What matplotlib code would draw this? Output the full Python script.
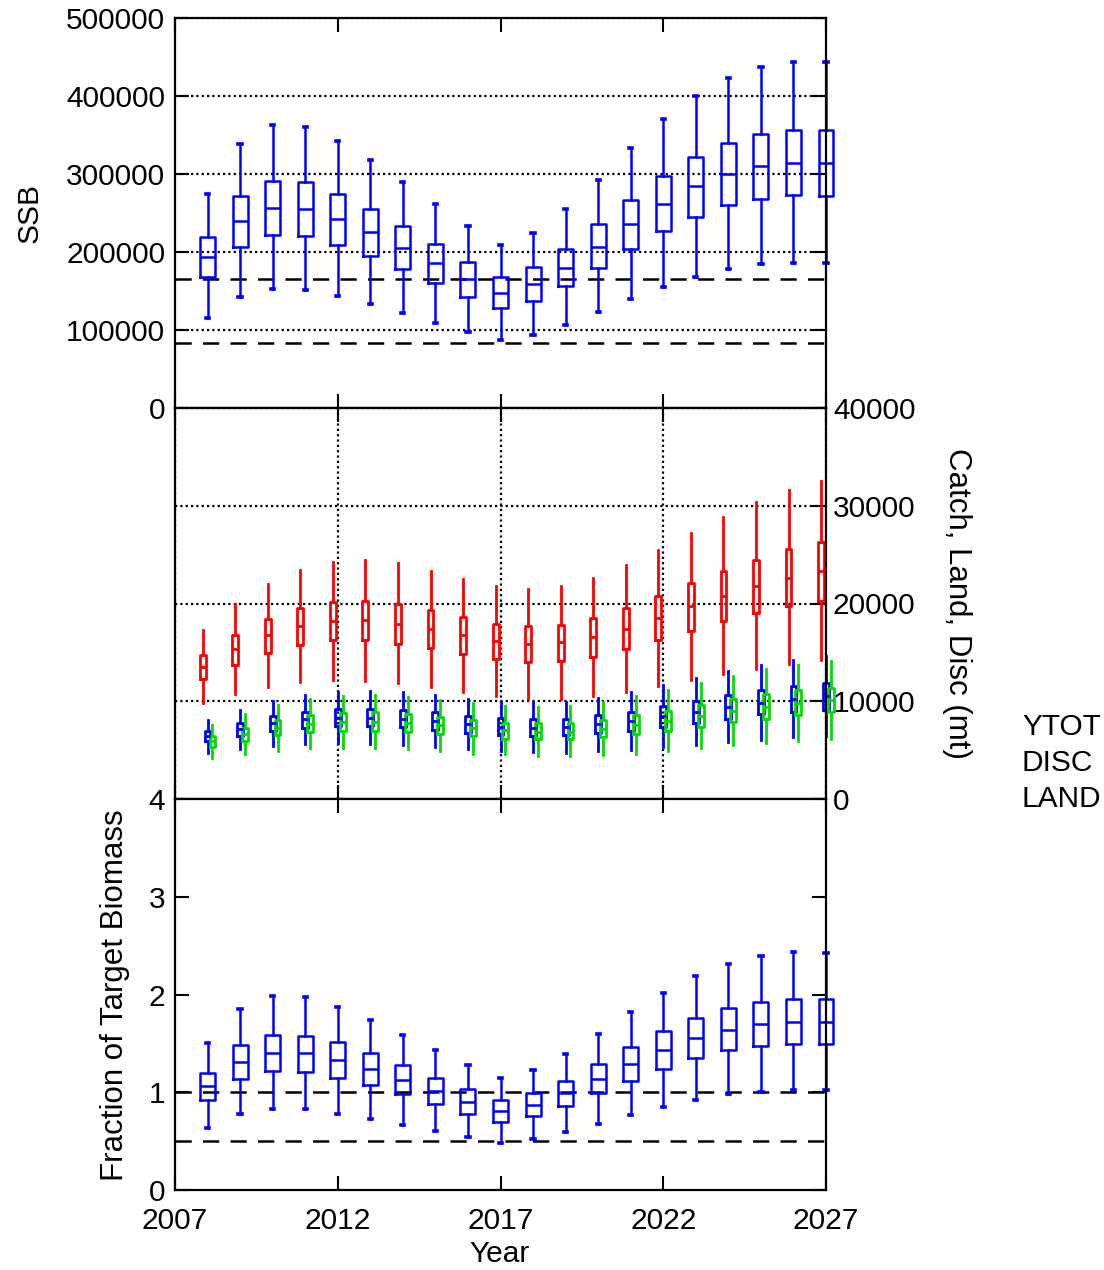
import matplotlib
matplotlib.use('Agg')
import matplotlib.pyplot as plt

plt.rcParams['font.family'] = ['Liberation Sans', 'DejaVu Sans']

years = list(range(2008, 2028))
xticks = [2007, 2012, 2017, 2022, 2027]

# SSB: whisker low, q1, median, q3, whisker high
ssb_lo = [115000, 142000, 152000, 151500, 143500, 133500, 121500, 109500, 97500, 87000,
          94000, 107000, 122500, 140000, 155500, 168000, 178000, 184000, 186500, 186000]
ssb_q1 = [168000, 207000, 222000, 220500, 209000, 195000, 178000, 160000, 142500, 128000,
          137000, 156000, 179000, 203500, 227000, 245500, 260000, 268500, 273000, 272000]
ssb_med = [194000, 240000, 256500, 255000, 242500, 225500, 205500, 185500, 165000, 148000,
           159000, 180000, 207000, 236000, 262000, 284000, 299500, 310000, 314500, 314500]
ssb_q3 = [219500, 272000, 291000, 289500, 275000, 255500, 233000, 210000, 187000, 167500,
          180500, 204000, 235500, 267000, 297000, 322000, 339500, 351500, 357000, 356500]
ssb_hi = [274000, 338500, 363000, 360000, 342000, 318500, 290000, 262000, 233000, 209000,
          225000, 254500, 292500, 333000, 370000, 400000, 423000, 437500, 444000, 443000]
ssb_ref = [166000, 83000]

# Catch (YTOT)
ytot_lo = [9800, 10750, 11500, 11950, 12150, 12100, 11900, 11500, 10950, 10550,
           10250, 10250, 10500, 10950, 11550, 12150, 12750, 13350, 13800, 14200]
ytot_q1 = [12300, 13750, 14950, 15800, 16250, 16250, 15900, 15400, 14800, 14300,
           14000, 14100, 14550, 15300, 16250, 17200, 18200, 19050, 19750, 20300]
ytot_med = [13550, 15300, 16750, 17700, 18250, 18300, 17950, 17350, 16750, 16150,
            15900, 16050, 16550, 17400, 18500, 19700, 20750, 21800, 22650, 23300]
ytot_q3 = [14750, 16750, 18400, 19550, 20150, 20250, 19950, 19300, 18600, 17950,
           17650, 17800, 18500, 19500, 20750, 22050, 23350, 24500, 25550, 26300]
ytot_hi = [17300, 19900, 21950, 23450, 24200, 24400, 24100, 23350, 22500, 21800,
           21500, 21750, 22650, 23950, 25500, 27200, 28850, 30400, 31600, 32550]

# Discards (DISC)
disc_lo = [4750, 5100, 5400, 5650, 5700, 5650, 5500, 5300, 5100, 4900,
           4800, 4750, 4900, 5050, 5300, 5500, 5800, 6050, 6300, 6400]
disc_q1 = [5900, 6450, 6950, 7250, 7450, 7450, 7350, 7050, 6800, 6500,
           6450, 6500, 6750, 7000, 7400, 7750, 8200, 8650, 8950, 9150]
disc_med = [6450, 7150, 7750, 8150, 8300, 8300, 8200, 8000, 7650, 7350,
            7300, 7350, 7650, 8000, 8500, 8900, 9400, 9850, 10250, 10550]
disc_q3 = [6950, 7800, 8500, 8950, 9200, 9250, 9100, 8850, 8500, 8250,
           8150, 8200, 8550, 8950, 9500, 10050, 10600, 11150, 11600, 11900]
disc_hi = [8100, 9150, 10050, 10650, 10950, 11050, 10900, 10650, 10250, 9950,
           9900, 9900, 10350, 10900, 11650, 12350, 13050, 13700, 14250, 14650]

# Landings (LAND)
land_lo = [4200, 4600, 4950, 5200, 5250, 5200, 5100, 4900, 4650, 4600,
           4400, 4400, 4550, 4650, 4950, 5200, 5500, 5750, 5950, 6100]
land_q1 = [5350, 5950, 6500, 6850, 7000, 7000, 6900, 6650, 6400, 6150,
           6100, 6100, 6300, 6600, 7000, 7400, 7850, 8200, 8550, 8850]
land_med = [5950, 6650, 7250, 7700, 7900, 7900, 7800, 7550, 7250, 7050,
            6900, 6900, 7200, 7600, 8000, 8500, 9000, 9450, 9850, 10150]
land_q3 = [6400, 7300, 8050, 8550, 8750, 8850, 8700, 8400, 8100, 7800,
           7750, 7750, 8100, 8550, 9050, 9600, 10200, 10700, 11100, 11400]
land_hi = [7550, 8650, 9600, 10200, 10550, 10650, 10450, 10150, 9850, 9500,
           9400, 9500, 9900, 10500, 11150, 11850, 12600, 13250, 13700, 14150]

# Fraction of target biomass
frac_lo = [0.63, 0.78, 0.83, 0.83, 0.78, 0.73, 0.67, 0.60, 0.54, 0.48,
           0.52, 0.59, 0.68, 0.77, 0.85, 0.92, 0.98, 1.00, 1.02, 1.02]
frac_q1 = [0.92, 1.14, 1.22, 1.21, 1.15, 1.07, 0.98, 0.88, 0.78, 0.70,
           0.76, 0.86, 0.99, 1.12, 1.24, 1.35, 1.43, 1.47, 1.49, 1.49]
frac_med = [1.06, 1.31, 1.40, 1.40, 1.33, 1.24, 1.13, 1.01, 0.90, 0.81,
            0.87, 0.99, 1.14, 1.29, 1.43, 1.55, 1.64, 1.70, 1.72, 1.72]
frac_q3 = [1.20, 1.48, 1.59, 1.58, 1.51, 1.40, 1.28, 1.15, 1.03, 0.92,
           0.99, 1.12, 1.29, 1.46, 1.63, 1.76, 1.86, 1.92, 1.95, 1.95]
frac_hi = [1.50, 1.85, 1.98, 1.97, 1.87, 1.74, 1.59, 1.43, 1.28, 1.15,
           1.23, 1.39, 1.60, 1.82, 2.02, 2.19, 2.31, 2.39, 2.43, 2.42]
frac_ref = [1.0, 0.5]

legend_labels = ['YTOT', 'DISC', 'LAND']

FS = 21.5
FSL = 22.5
W, H = 1104, 1270
fig = plt.figure(figsize=(W / 100, H / 100), dpi=100)

def ax_at(top, bottom):
    return fig.add_axes([175 / W, 1 - bottom / H, 651 / W, (bottom - top) / H])

ax1 = ax_at(18, 408)
ax2 = ax_at(408, 799)
ax3 = ax_at(799, 1190)

def stats(lo, q1, med, q3, hi):
    return [dict(whislo=a, q1=b, med=c, q3=d, whishi=e, fliers=[])
            for a, b, c, d, e in zip(lo, q1, med, q3, hi)]

def draw_boxes(ax, st, pos, color, width, capw, lw=1.8, caplw=2.6):
    art = ax.bxp(st, positions=pos, widths=width, showfliers=False, manage_ticks=False,
                 capwidths=capw,
                 boxprops=dict(color=color, linewidth=lw),
                 whiskerprops=dict(color=color, linewidth=lw),
                 capprops=dict(color=color, linewidth=caplw),
                 medianprops=dict(color=color, linewidth=lw))
    for k in art:
        for a in art[k]:
            a.set_clip_on(False)
    return art

dotted = (0, (1.0, 1.4))
dashed = (0, (6.5, 4.5))

for ax in (ax1, ax2, ax3):
    ax.set_xlim(2007, 2027)
    ax.set_xticks(xticks)
    for s in ax.spines.values():
        s.set_linewidth(1.6)
    ax.tick_params(direction='in', length=10, width=1.5, labelsize=FS,
                   top=True, bottom=True)

# Top panel: SSB
draw_boxes(ax1, stats(ssb_lo, ssb_q1, ssb_med, ssb_q3, ssb_hi), years, 'blue', 0.46, 0.1)
for r in ssb_ref:
    ax1.axhline(r, color='black', lw=1.8, linestyle=dashed, zorder=1)
ax1.set_ylim(0, 500000)
ax1.set_yticks([0, 100000, 200000, 300000, 400000, 500000])
ax1.yaxis.grid(True, color='black', linestyle=dotted, linewidth=1.6)
ax1.set_axisbelow(True)
ax1.tick_params(axis='y', left=True, right=True, pad=7)
ax1.tick_params(axis='x', labelbottom=False)

# Middle panel: catch, landings, discards
yrs = [float(y) for y in years]
draw_boxes(ax2, stats(ytot_lo, ytot_q1, ytot_med, ytot_q3, ytot_hi),
           [y - 0.15 for y in yrs], 'red', 0.18, 0.0, lw=2.0)
draw_boxes(ax2, stats(disc_lo, disc_q1, disc_med, disc_q3, disc_hi),
           yrs, 'blue', 0.18, 0.0, lw=2.0)
draw_boxes(ax2, stats(land_lo, land_q1, land_med, land_q3, land_hi),
           [y + 0.15 for y in yrs], '#00dd00', 0.18, 0.0, lw=2.0)
ax2.set_ylim(0, 40000)
ax2.set_yticks([0, 10000, 20000, 30000, 40000])
ax2.grid(True, color='black', linestyle=dotted, linewidth=1.6)
ax2.set_axisbelow(True)
ax2.tick_params(axis='y', left=False, right=True, labelleft=False, labelright=True, pad=5)
ax2.tick_params(axis='x', labelbottom=False)

# Bottom panel: fraction of target biomass
draw_boxes(ax3, stats(frac_lo, frac_q1, frac_med, frac_q3, frac_hi), years, 'blue', 0.46, 0.1)
for r in frac_ref:
    ax3.axhline(r, color='black', lw=1.8, linestyle=dashed, zorder=1)
ax3.set_ylim(0, 4)
ax3.set_yticks([0, 1, 2, 3, 4])
ax3.tick_params(axis='y', left=True, right=True, pad=7)
ax3.tick_params(axis='x', pad=12)

# Axis titles
fig.text(30 / W, 1 - 213 / H, 'SSB', rotation=90, ha='center', va='center', fontsize=FS)
fig.text(115 / W, 1 - 995 / H, 'Fraction of Target Biomass', rotation=90,
         ha='center', va='center', fontsize=FSL)
fig.text(957 / W, 1 - 604 / H, 'Catch, Land, Disc (mt)', rotation=270,
         ha='center', va='center', fontsize=FSL)
fig.text(500 / W, 1 - 1254 / H, 'Year', ha='center', va='center', fontsize=FS)

# Legend labels
for i, lab in enumerate(legend_labels):
    fig.text(1022 / W, 1 - (727 + 36 * i) / H, lab, ha='left', va='center', fontsize=FS)

fig.savefig('out.png', dpi=100)
